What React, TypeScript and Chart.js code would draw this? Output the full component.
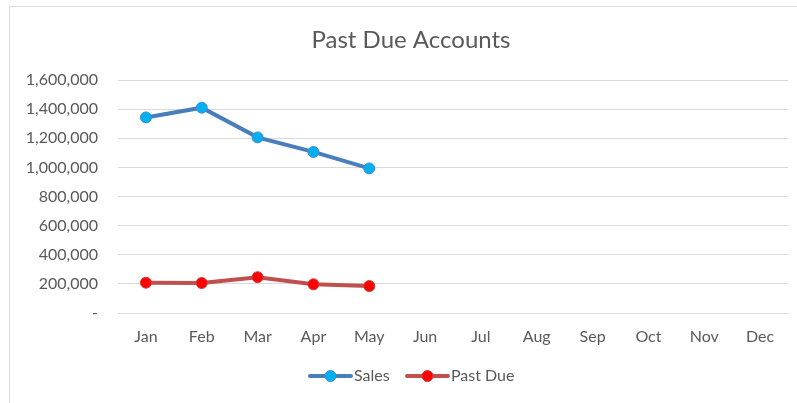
import React, { useEffect, useRef } from "react";
import { Chart, registerables } from "chart.js";

Chart.register(...registerables);

const months = ["Jan", "Feb", "Mar", "Apr", "May", "Jun", "Jul", "Aug", "Sep", "Oct", "Nov", "Dec"];
const sales = [1343000, 1410000, 1206000, 1106000, 993000, null, null, null, null, null, null, null];
const pastDue = [208000, 206000, 246000, 197000, 185000, null, null, null, null, null, null, null];
const yMin = 0;
const yMax = 1600000;
const yStep = 200000;
const chartTitle = "Past Due Accounts";

const FONT = "Lato, 'Open Sans', sans-serif";
const TEXT = "#595959";

const frame = {
  id: "frame",
  beforeDraw(chart: any) {
    const ctx = chart.ctx;
    ctx.save();
    ctx.fillStyle = "#ffffff";
    ctx.fillRect(0, 0, chart.width, chart.height);
    ctx.strokeStyle = "#d9d9d9";
    ctx.lineWidth = 1;
    ctx.beginPath();
    ctx.moveTo(9.5, chart.height);
    ctx.lineTo(9.5, 6.5);
    ctx.lineTo(chart.width, 6.5);
    ctx.stroke();
    ctx.restore();
  },
  afterDraw(chart: any) {
    const ctx = chart.ctx;
    ctx.save();
    ctx.font = `24px ${FONT}`;
    ctx.fillStyle = TEXT;
    ctx.textAlign = "center";
    ctx.textBaseline = "middle";
    ctx.fillText(chartTitle, 411, 40);
    ctx.restore();
  },
};

const lineLegend = {
  id: "lineLegend",
  afterDraw(chart: any) {
    const ctx = chart.ctx;
    const y = 376;
    const starts = [310, 407];
    ctx.save();
    ctx.font = `16px ${FONT}`;
    ctx.textBaseline = "middle";
    ctx.textAlign = "left";
    chart.data.datasets.forEach((ds: any, i: number) => {
      const x0 = starts[i];
      ctx.strokeStyle = ds.borderColor;
      ctx.lineWidth = ds.borderWidth;
      ctx.lineCap = "round";
      ctx.beginPath();
      ctx.moveTo(x0, y);
      ctx.lineTo(x0 + 41, y);
      ctx.stroke();
      ctx.beginPath();
      ctx.arc(x0 + 20.5, y, ds.pointRadius, 0, Math.PI * 2);
      ctx.fillStyle = ds.pointBackgroundColor;
      ctx.fill();
      ctx.lineWidth = ds.pointBorderWidth;
      ctx.strokeStyle = ds.pointBorderColor;
      ctx.stroke();
      ctx.fillStyle = TEXT;
      ctx.fillText(ds.label, x0 + 44, y);
    });
    ctx.restore();
  },
};

export default function App() {
  const ref = useRef<HTMLCanvasElement>(null);
  useEffect(() => {
    if (!ref.current) return;
    const chart = new Chart(ref.current, {
      type: "line",
      data: {
        labels: months,
        datasets: [
          {
            label: "Sales",
            data: sales,
            borderColor: "#4a7ebb",
            borderWidth: 4,
            pointRadius: 5.5,
            pointBackgroundColor: "#00b0f0",
            pointBorderColor: "#3f8fd0",
            pointBorderWidth: 1,
            tension: 0,
          },
          {
            label: "Past Due",
            data: pastDue,
            borderColor: "#c0504d",
            borderWidth: 4,
            pointRadius: 5.5,
            pointBackgroundColor: "#ff0000",
            pointBorderColor: "#d63a38",
            pointBorderWidth: 1,
            tension: 0,
          },
        ],
      },
      options: {
        animation: false,
        responsive: false,
        layout: { padding: { left: 0, right: 9, top: 80, bottom: 50 } },
        plugins: {
          legend: { display: false },
          tooltip: { enabled: false },
          title: { display: false },
        },
        scales: {
          x: {
            offset: true,
            grid: { display: false, drawTicks: false },
            border: { display: false },
            ticks: { color: TEXT, font: { family: FONT, size: 16 }, padding: 14, maxRotation: 0 },
            afterFit(scale: any) {
              scale.height = 40;
            },
          },
          y: {
            min: yMin,
            max: yMax,
            grid: { color: "#d9d9d9", lineWidth: 1, drawTicks: false },
            border: { display: false },
            ticks: {
              stepSize: yStep,
              color: TEXT,
              font: { family: FONT, size: 16 },
              padding: 20,
              callback: (v: any) => (Number(v) === 0 ? "-" : Number(v).toLocaleString("en-US")),
            },
            afterFit(scale: any) {
              scale.width = 118;
            },
          },
        },
      },
      plugins: [frame, lineLegend],
    });
    return () => chart.destroy();
  }, []);
  return (
    <div style={{ position: "absolute", left: 0, top: 0, width: 797, height: 403 }}>
      <canvas ref={ref} width={797} height={403} style={{ display: "block" }} />
    </div>
  );
}
